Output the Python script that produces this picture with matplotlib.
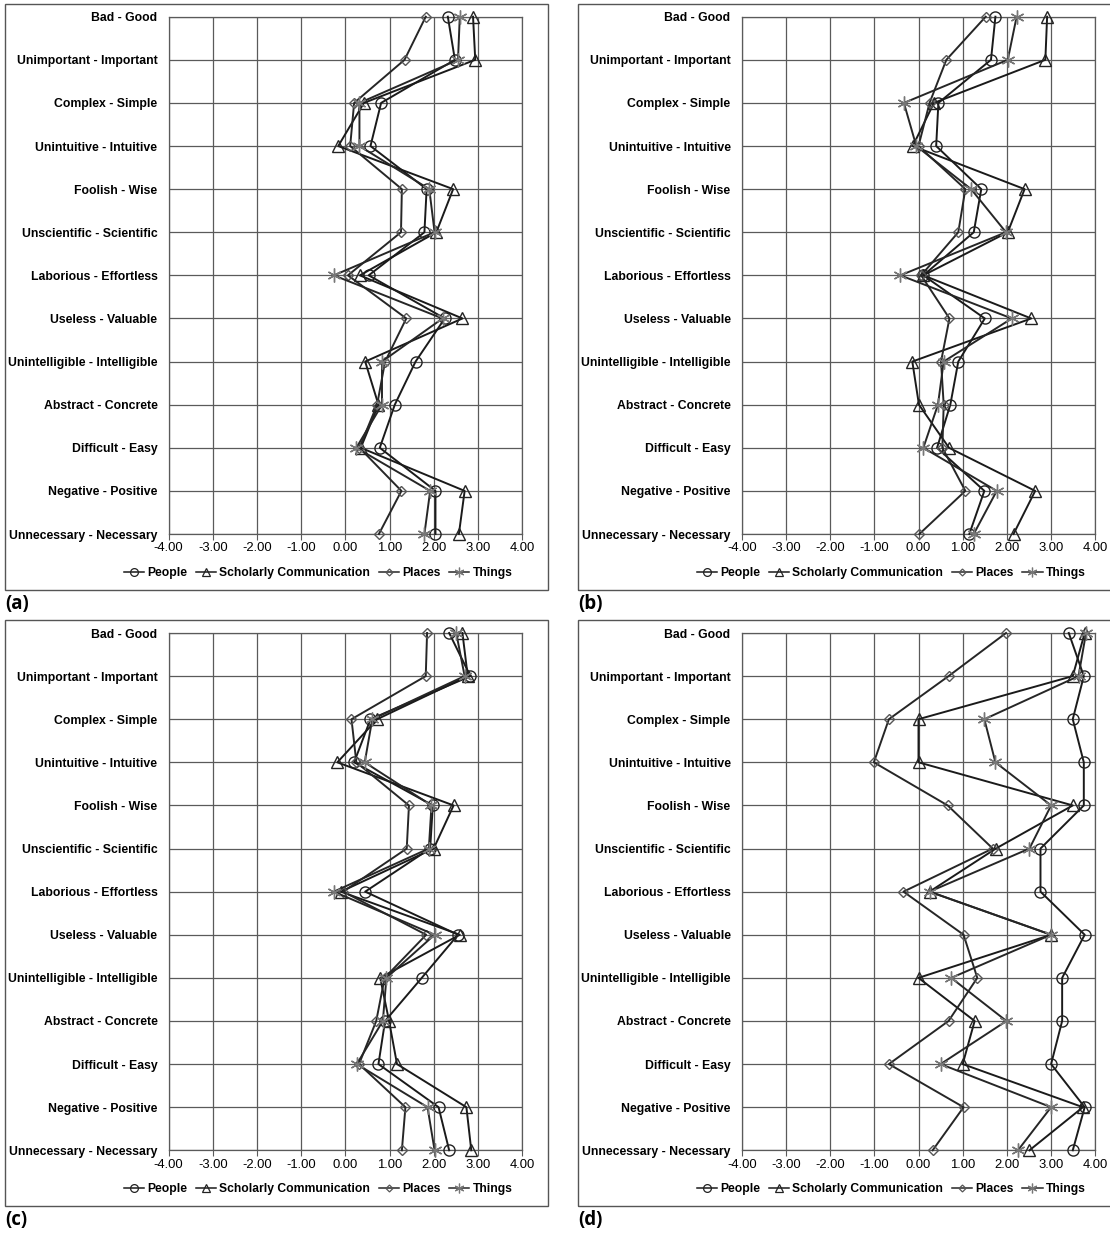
import matplotlib
matplotlib.use("Agg")
import matplotlib.pyplot as plt
from matplotlib.patches import Rectangle
from matplotlib.lines import Line2D

plt.rcParams['font.family'] = ['Liberation Sans', 'DejaVu Sans']

categories = ["Bad - Good", "Unimportant - Important", "Complex - Simple",
              "Unintuitive - Intuitive", "Foolish - Wise", "Unscientific - Scientific",
              "Laborious - Effortless", "Useless - Valuable", "Unintelligible - Intelligible",
              "Abstract - Concrete", "Difficult - Easy", "Negative - Positive",
              "Unnecessary - Necessary"]
series_names = ["People", "Scholarly Communication", "Places", "Things"]
x_ticks = [-4, -3, -2, -1, 0, 1, 2, 3, 4]
panel_labels = ["(a)", "(b)", "(c)", "(d)"]

# panel (a)
a_people = [2.32, 2.48, 0.81, 0.57, 1.84, 1.79, 0.53, 2.25, 1.59, 1.12, 0.78, 2.04, 2.04]
a_scholarly = [2.89, 2.94, 0.42, -0.16, 2.44, 2.06, 0.33, 2.65, 0.45, 0.75, 0.35, 2.70, 2.57]
a_places = [1.82, 1.34, 0.20, 0.11, 1.28, 1.26, 0.06, 1.38, 0.90, 0.72, 0.32, 1.27, 0.76]
a_things = [2.59, 2.55, 0.32, 0.32, 1.90, 2.02, -0.26, 2.20, 0.83, 0.83, 0.25, 1.92, 1.79]

# panel (b)
b_people = [1.74, 1.64, 0.45, 0.40, 1.42, 1.25, 0.11, 1.50, 0.90, 0.72, 0.42, 1.49, 1.15]
b_scholarly = [2.91, 2.87, 0.35, -0.13, 2.40, 2.02, 0.11, 2.55, -0.14, 0.01, 0.69, 2.64, 2.15]
b_places = [1.52, 0.63, 0.25, 0.00, 1.06, 0.90, 0.06, 0.70, 0.51, 0.57, 0.54, 1.06, 0.02]
b_things = [2.22, 2.02, -0.33, -0.05, 1.19, 1.98, -0.41, 2.11, 0.57, 0.44, 0.11, 1.77, 1.25]

# panel (c)
c_people = [2.35, 2.83, 0.57, 0.20, 1.98, 1.92, 0.45, 2.55, 1.73, 0.90, 0.75, 2.11, 2.35]
c_scholarly = [2.65, 2.77, 0.72, -0.18, 2.45, 2.00, -0.10, 2.59, 0.79, 0.99, 1.17, 2.74, 2.85]
c_places = [1.85, 1.82, 0.14, 0.25, 1.44, 1.39, -0.05, 1.83, 0.89, 0.70, 0.31, 1.36, 1.28]
c_things = [2.51, 2.70, 0.61, 0.44, 1.95, 1.89, -0.26, 2.02, 0.93, 0.85, 0.26, 1.86, 2.02]

# panel (d)
d_people = [3.40, 3.74, 3.49, 3.74, 3.74, 2.76, 2.76, 3.76, 3.25, 3.25, 3.00, 3.76, 3.49]
d_scholarly = [3.76, 3.49, 0.00, 0.00, 3.49, 1.75, 0.25, 3.00, 0.00, 1.27, 1.00, 3.72, 2.51]
d_places = [1.98, 0.68, -0.67, -1.01, 0.66, 1.68, -0.34, 1.02, 1.33, 0.68, -0.67, 1.02, 0.32]
d_things = [3.79, 3.62, 1.49, 1.74, 3.00, 2.51, 0.25, 3.00, 0.74, 1.99, 0.50, 3.00, 2.25]

panels = [
    [a_people, a_scholarly, a_places, a_things],
    [b_people, b_scholarly, b_places, b_things],
    [c_people, c_scholarly, c_places, c_things],
    [d_people, d_scholarly, d_places, d_things],
]

# marker style per series
styles = [
    dict(marker='o', markersize=8, markeredgecolor='#222222', color='#1a1a1a'),
    dict(marker='^', markersize=8, markeredgecolor='#222222', color='#1a1a1a'),
    dict(marker='D', markersize=5, markeredgecolor='#555555', color='#262626'),
    dict(marker=(6, 2, 0), markersize=10, markeredgecolor='#777777', color='#262626'),
]

W, H = 1110, 1236
fig = plt.figure(figsize=(W / 100, H / 100), dpi=100)

# pixel layout: (axes left, axes top, frame left, frame top)
layout = [(168.5, 16.7, 5, 4), (741.7, 16.7, 578, 4),
          (168.5, 633.0, 5, 620), (741.7, 633.0, 578, 620)]
ax_w, ax_h = 353.6, 517.3
frame_w, frame_h = 543, 586

grid_col = '#5a5a5a'
y_pos = list(range(len(categories)))

for i, (left, top, fl, ft) in enumerate(layout):
    ax = fig.add_axes([left / W, 1 - (top + ax_h) / H, ax_w / W, ax_h / H])
    for vals, st in zip(panels[i], styles):
        ax.plot(vals, y_pos, lw=1.4, markerfacecolor='none', markeredgewidth=1.0,
                clip_on=False, zorder=3, **st)
    ax.set_xlim(-4, 4)
    ax.set_ylim(len(categories) - 1, 0)
    ax.set_xticks(x_ticks)
    ax.set_xticklabels([f"{t:.2f}" for t in x_ticks])
    ax.set_yticks(y_pos)
    ax.set_yticklabels(categories, fontweight='bold')
    ax.grid(True, color=grid_col, lw=0.9)
    ax.set_axisbelow(True)
    for s in ax.spines.values():
        s.set_color(grid_col)
        s.set_linewidth(0.9)
    ax.tick_params(axis='x', direction='out', length=4, color=grid_col,
                   labelsize=9.4, pad=2)
    ax.tick_params(axis='y', length=0, labelsize=8.8, pad=8)

    # legend under the axes
    handles = [Line2D([], [], lw=1.1, markerfacecolor='none',
                      markeredgewidth=0.9,
                      **dict(st, markersize=st['markersize'] * 0.7))
               for st in styles]
    leg_x = (318 + (left - 168.5)) / W
    leg_y = 1 - (top + 556.3) / H
    fig.legend(handles, series_names, loc='center', bbox_to_anchor=(leg_x, leg_y),
               ncol=4, frameon=False, handlelength=1.7, handletextpad=0.25,
               columnspacing=0.7, prop=dict(weight='bold', size=8.7))

    # frame around the panel
    fig.add_artist(Rectangle((fl / W, 1 - (ft + frame_h) / H), frame_w / W, frame_h / H,
                             transform=fig.transFigure, fill=False,
                             edgecolor='#555555', lw=1.0))
    fig.text(fl / W, 1 - (ft + frame_h + 14) / H, panel_labels[i],
             family=['Open Sans', 'DejaVu Sans'], fontweight='bold', fontsize=13.5,
             ha='left', va='center')

fig.savefig("out.png", dpi=100)
